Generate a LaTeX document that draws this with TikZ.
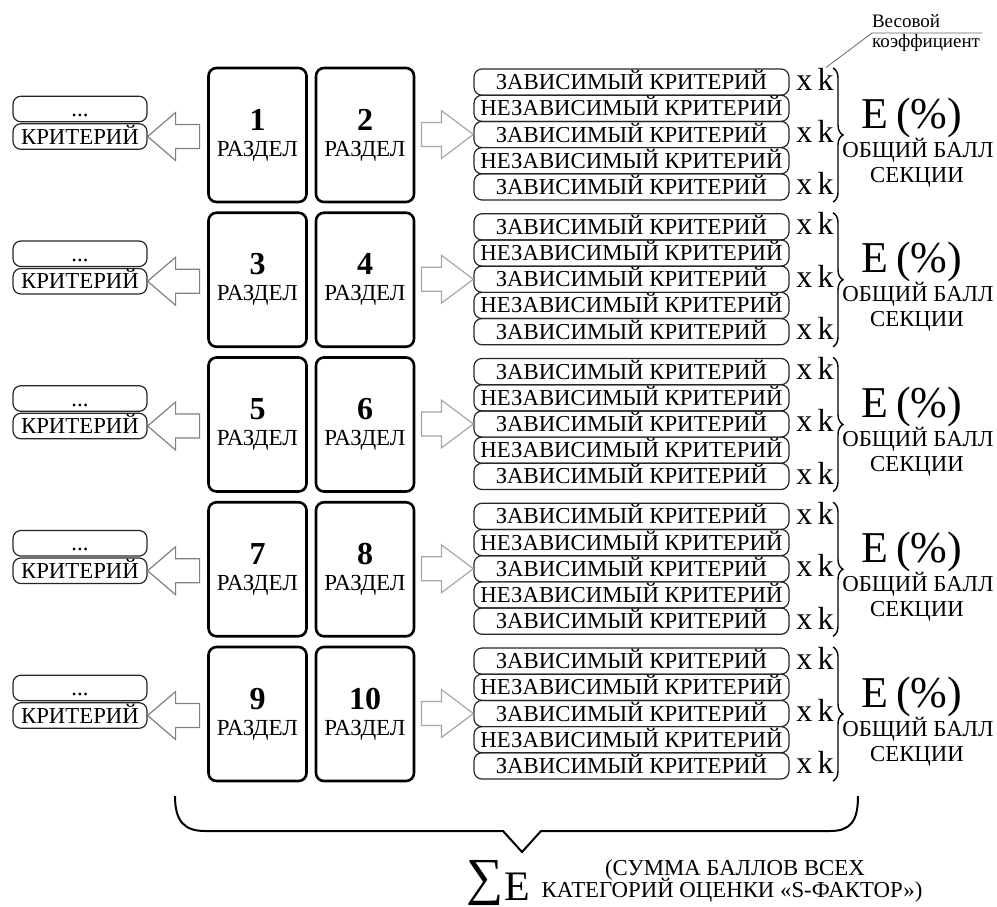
\documentclass[tikz,border=0pt]{standalone}
\usepackage{fontspec}
\setmainfont{Liberation Serif}
\usetikzlibrary{calc,decorations.pathreplacing}

\begin{document}
\begin{tikzpicture}[x=0.5pt,y=-0.5pt,
    razdel/.style={draw,line width=1.3pt,rounded corners=4pt,minimum width=49pt,minimum height=67pt,inner sep=0pt},
    nomer/.style={anchor=base,font=\bfseries\fontsize{16}{16}\selectfont},
    podpis/.style={anchor=base,font=\fontsize{11.5}{11.5}\selectfont},
    krit/.style={draw=black!85,line width=0.6pt,rounded corners=4pt,minimum width=157.5pt,minimum height=13.1pt,inner sep=0pt,text height=7.5pt,text depth=0pt,font=\fontsize{11.4}{11.4}\selectfont},
    malkrit/.style={krit,minimum width=67pt,minimum height=12.8pt},
    koef/.style={anchor=base west,inner sep=0pt,font=\fontsize{16}{16}\selectfont},
    ball/.style={anchor=base,font=\fontsize{11.4}{11.4}\selectfont},
    strelka/.style={draw=black!50,line width=0.6pt,line join=miter},
    skobka/.style={decorate,decoration={brace,amplitude=5pt},line width=0.7pt}]
  \useasboundingbox (0,0) rectangle (997,906);
  \foreach \r/\a/\b in {0/1/2,1/3/4,2/5/6,3/7/8,4/9/10}{
    \pgfmathsetmacro\T{68+144.75*\r}
    % razdely
    \node[razdel] (ra\r) at (257.5,\T+67) {};
    \node[razdel] (rb\r) at (365,\T+67) {};
    \node[nomer] (na\r) at (257.5,\T+62) {\a};
    \node[nomer] (nb\r) at (365,\T+62) {\b};
    \node[podpis] (pa\r) at (257.5,\T+88) {РАЗДЕЛ};
    \node[podpis] (pb\r) at (365,\T+88) {РАЗДЕЛ};
    % sleva
    \node[malkrit] (md\r) at (80,\T+41) {...};
    \node[malkrit] (mk\r) at (80,\T+68.5) {КРИТЕРИЙ};
    \draw[strelka] (mk\r.east) -- ++(28,-24) -- ++(0,12) -- ++(24,0) -- ++(0,24) -- ++(-24,0) -- ++(0,12) -- cycle;
    % sprava
    \foreach \j/\txt in {0/ЗАВИСИМЫЙ КРИТЕРИЙ,1/НЕЗАВИСИМЫЙ КРИТЕРИЙ,2/ЗАВИСИМЫЙ КРИТЕРИЙ,3/НЕЗАВИСИМЫЙ КРИТЕРИЙ,4/ЗАВИСИМЫЙ КРИТЕРИЙ}
      \node[krit] (kr\r\j) at (631.5,\T+14.1+26.2*\j) {\txt};
    \draw[strelka,draw=black!35] (kr\r2.west) -- ++(-32,-24) -- ++(0,12) -- ++(-20,0) -- ++(0,24) -- ++(20,0) -- ++(0,12) -- cycle;
    \foreach \j in {0,2,4}
      \node[koef] (xk\r\j) at (796,\T+22+26.2*\j) {x\,k};
    \coordinate (sv\r) at (833,\T);
    \coordinate (sn\r) at (833,\T+134);
    \draw[skobka] (sv\r) -- (sn\r);
    \node[anchor=base,font=\fontsize{22}{22}\selectfont] (e\r) at (912,\T+60) {E\,(\%)};
    \node[ball] (ob\r) at (918,\T+89) {ОБЩИЙ БАЛЛ};
    \node[ball] (sk\r) at (917,\T+114) {СЕКЦИИ};
  }
  % vesovoj koefficient
  \node[anchor=base west,font=\fontsize{9.5}{9.5}\selectfont] (ves) at (865,27) {Весовой};
  \node[anchor=base west,font=\fontsize{9.5}{9.5}\selectfont] (koe) at (865,47) {коэффициент};
  \coordinate (vr) at (982,33);
  \coordinate (vl) at (872,33);
  \coordinate (vk) at ($(xk00.north east)+(-8,0)$);
  \draw[black!60,line width=0.4pt] (vr) -- (vl) -- (vk);
  % summa
  \coordinate (bl) at (175,796);
  \coordinate (br) at (858,796);
  \coordinate (bv) at (522,852);
  \draw[line width=1pt] (bl) .. controls (175,822) and (185,831) .. (205,831) -- (503,831) -- (bv) -- (541,831) -- (830,831) .. controls (850,831) and (858,822) .. (br);
  \node[font=\fontsize{26}{26}\selectfont,inner sep=0pt] (sig) at (485,883) {∑};
  \node[anchor=base west,inner sep=0pt,font=\fontsize{21}{21}\selectfont] (esum) at (504,900) {E};
  \node[ball] (sum1) at (735,875) {(СУММА БАЛЛОВ ВСЕХ};
  \node[ball] (sum2) at (732,897) {КАТЕГОРИЙ ОЦЕНКИ «S-ФАКТОР»)};
\end{tikzpicture}
\end{document}
